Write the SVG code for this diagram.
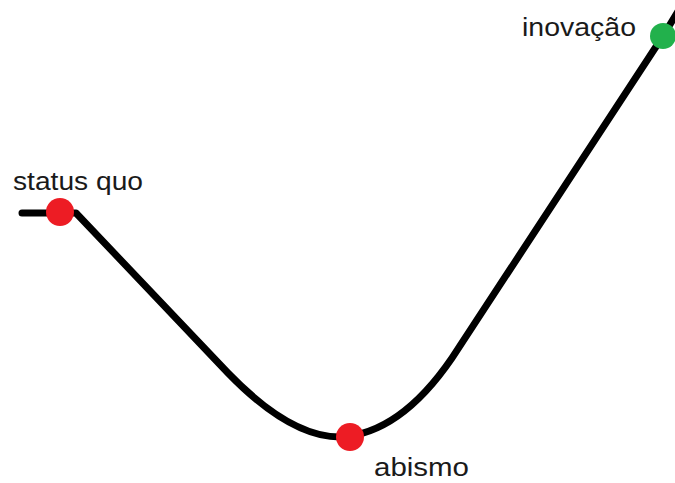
<svg xmlns="http://www.w3.org/2000/svg" width="675" height="483" viewBox="0 0 675 483">
<style>
.curve{fill:none;stroke:#000;stroke-width:7;stroke-linecap:round;stroke-linejoin:round}
.lbl{font-family:"Liberation Sans",Arial,sans-serif;font-size:25px;fill:#1a1a1a}
.red{fill:#ed1c24}
.green{fill:#22b14c}
</style>
<rect width="675" height="483" fill="#fff"/>
<g id="connectors">
<path class="curve" d="M 22 213 L 76 213 L 228 373 Q 290 437 340 437 Q 400 434 452 358 L 663 36 L 680 8"/>
</g>
<g id="status-quo">
<circle class="red" cx="60" cy="212" r="14"/>
<text class="lbl" x="13" y="190" textLength="130" lengthAdjust="spacingAndGlyphs">status quo</text>
</g>
<g id="abismo">
<circle class="red" cx="350" cy="437" r="14"/>
<text class="lbl" x="374" y="476" textLength="95" lengthAdjust="spacingAndGlyphs">abismo</text>
</g>
<g id="inovacao">
<circle class="green" cx="663" cy="36" r="13"/>
<text class="lbl" x="522" y="36" textLength="114" lengthAdjust="spacingAndGlyphs">inovação</text>
</g>
</svg>
